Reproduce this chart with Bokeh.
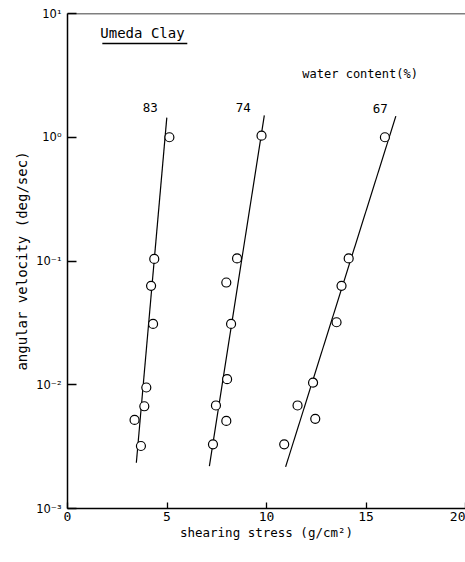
from bokeh.plotting import figure
from bokeh.models import Range1d, FixedTicker, CustomJSTickFormatter, Label, Span
from bokeh.embed import file_html
from bokeh.resources import INLINE

# ---- data ----
water_contents = ["83", "74", "67"]

stress_83 = [5.12, 4.36, 4.20, 4.30, 3.96, 3.86, 3.37, 3.69]
velocity_83 = [1.0, 0.104, 0.063, 0.031, 0.0095, 0.0067, 0.0052, 0.0032]

stress_74 = [9.75, 8.52, 7.98, 8.22, 8.02, 7.46, 7.98, 7.31]
velocity_74 = [1.03, 0.105, 0.067, 0.031, 0.0111, 0.0068, 0.0051, 0.0033]

stress_67 = [15.95, 14.13, 13.77, 13.52, 12.34, 11.56, 12.45, 10.89]
velocity_67 = [1.0, 0.105, 0.063, 0.032, 0.0104, 0.0068, 0.0053, 0.0033]

# fitted lines (end points)
fit_83_x = [3.46, 4.99]
fit_83_y = [0.00234, 1.44]
fit_74_x = [7.13, 9.89]
fit_74_y = [0.0022, 1.50]
fit_67_x = [10.96, 16.50]
fit_67_y = [0.00217, 1.48]

x_ticks = [0, 5, 10, 15, 20]
y_ticks = [0.001, 0.01, 0.1, 1, 10]

# ---- label placement (data coordinates) ----
title_text = "Umeda Clay"
title_pos = (1.65, 7.0)
underline_x = [1.75, 6.02]
underline_y = 5.72
legend_text = "water content(%)"
legend_pos = (11.8, 3.27)
number_x = [4.16, 8.83, 15.72]
number_y = [1.73, 1.73, 1.70]

FONT = "DejaVu Sans Mono"

p = figure(width=465, height=553, x_range=Range1d(0, 20), y_range=Range1d(0.001, 10),
           y_axis_type="log", output_backend="svg", toolbar_location=None,
           min_border_left=67, min_border_right=0, min_border_top=13, min_border_bottom=45)

p.background_fill_color = "white"
p.border_fill_color = "white"
p.outline_line_color = None
p.xgrid.visible = False
p.ygrid.visible = False

# axes
p.xaxis.ticker = FixedTicker(ticks=x_ticks, minor_ticks=[])
p.yaxis.ticker = FixedTicker(ticks=y_ticks, minor_ticks=[])
p.yaxis.formatter = CustomJSTickFormatter(code="""
const e = Math.round(Math.log10(tick));
const sup = {"-": "\u207b", "0": "\u2070", "1": "\u00b9", "2": "\u00b2", "3": "\u00b3"};
return "10" + String(e).split("").map(c => sup[c]).join("");
""")
for ax in (p.xaxis[0], p.yaxis[0]):
    ax.axis_line_color = "black"
    ax.axis_line_width = 1.5
    ax.major_tick_line_color = "black"
    ax.major_tick_line_width = 1.3
    ax.major_tick_out = 0
    ax.minor_tick_line_color = None
    ax.major_label_text_color = "black"
    ax.axis_label_text_color = "black"
    ax.axis_label_text_font_style = "normal"
    ax.axis_label_text_font = FONT

p.xaxis.major_tick_in = 6
p.xaxis.major_label_text_font = FONT
p.xaxis.major_label_text_font_size = "13px"
p.xaxis.major_label_standoff = 3
p.xaxis.axis_label = "shearing stress (g/cm\u00b2)"
p.xaxis.axis_label_text_font_size = "12.5px"
p.xaxis.axis_label_standoff = 1

p.yaxis.major_tick_in = 9
p.yaxis.major_label_text_font = "DejaVu Sans"
p.yaxis.major_label_text_font_size = "11.5px"
p.yaxis.major_label_standoff = 6
p.yaxis.axis_label = "angular velocity (deg/sec)"
p.yaxis.axis_label_text_font_size = "14px"
p.yaxis.axis_label_standoff = 3

p.add_layout(Span(location=10, dimension="width", line_color="black", line_width=1.5))

# fitted lines
for fx, fy in ((fit_83_x, fit_83_y), (fit_74_x, fit_74_y), (fit_67_x, fit_67_y)):
    p.line(fx, fy, line_color="black", line_width=1.2)

# data points
for sx, vy in ((stress_83, velocity_83), (stress_74, velocity_74), (stress_67, velocity_67)):
    p.scatter(sx, vy, marker="circle", size=9, fill_color="white",
              line_color="black", line_width=1.2)

# texts
p.add_layout(Label(x=title_pos[0], y=title_pos[1], text=title_text, text_font=FONT,
                   text_font_size="14px", text_color="black", text_align="left",
                   text_baseline="middle"))
p.line(underline_x, [underline_y, underline_y], line_color="black", line_width=1.3)
p.add_layout(Label(x=legend_pos[0], y=legend_pos[1], text=legend_text, text_font=FONT,
                   text_font_size="12px", text_color="black", text_align="left",
                   text_baseline="middle"))
for t, nx, ny in zip(water_contents, number_x, number_y):
    p.add_layout(Label(x=nx, y=ny, text=t, text_font=FONT, text_font_size="12.5px",
                       text_color="black", text_align="center", text_baseline="middle"))

open("out.html", "w").write(file_html(p, INLINE))
